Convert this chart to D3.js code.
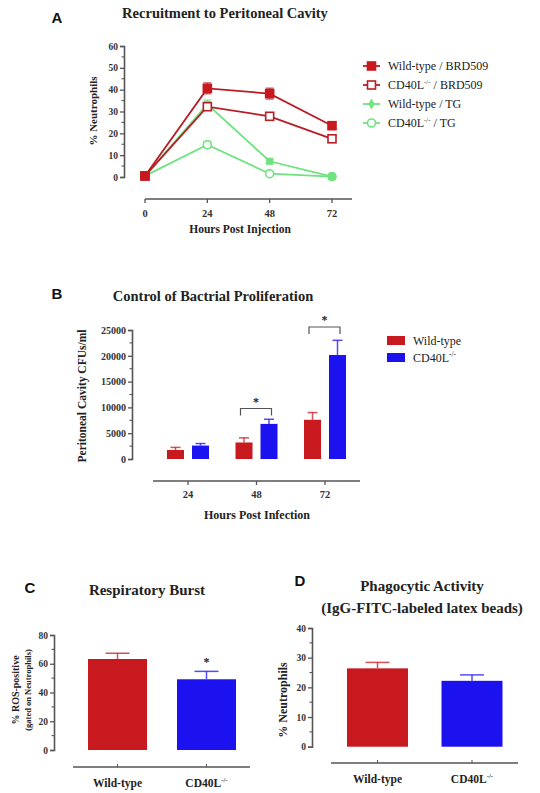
<!DOCTYPE html>
<html><head><meta charset="utf-8">
<script src="https://cdn.jsdelivr.net/npm/d3@7"></script>
<style>
body{margin:0;background:#fff;}
</style></head>
<body><svg id="c" width="540" height="793"></svg>
<script>
// ---------- DATA ----------
// Panel A
const hoursA = [0, 24, 48, 72];
const wtBRD = [0.5, 40.6, 38.2, 23.5];
const wtBRDerr = [0.5, 2.5, 2.5, 1.0];
const koBRD = [0.5, 32.2, 27.8, 17.5];
const koBRDerr = [0.5, 1.5, 1.2, 1.0];
const wtTG = [0.5, 33.3, 7.2, 0.2];
const wtTGerr = [0.3, 2.0, 1.0, 0.2];
const koTG = [0.5, 14.8, 1.5, 0.2];
const koTGerr = [0.3, 1.5, 0.5, 0.2];
const yTicksA = [0, 10, 20, 30, 40, 50, 60];
// Panel B
const hoursB = ["24", "48", "72"];
const wtCFU = [1750, 3200, 7600];
const wtCFUerr = [500, 900, 1400];
const koCFU = [2600, 6800, 20150];
const koCFUerr = [400, 900, 2850];
const yTicksB = [0, 5000, 10000, 15000, 20000, 25000];
// Panel C
const groupsCD = ["Wild-type", "CD40L"];
const rosVals = [63.3, 49.2];
const rosErr = [4.0, 5.5];
const yTicksC = [0, 20, 40, 60, 80];
// Panel D
const phagVals = [26.4, 22.2];
const phagErr = [2.0, 2.0];
const yTicksD = [0, 10, 20, 30, 40];

// ---------- STYLE ----------
const SERIF = '"Times New Roman", "Liberation Serif", Times, "DejaVu Serif", serif';
const SANS = '"Liberation Sans", Arial, Helvetica, sans-serif';
const RED = "#c8191f", RED_LINE = "#b81d24", BLUE = "#1c12f0", GREEN = "#6fe37f", AX = "#555";
const svg = d3.select("#c");

function yAxis(g, scale, x, ticks, minor, fs) {
  const ax = svg.append("g").attr("transform", `translate(${x},0)`);
  ax.call(d3.axisLeft(scale).tickValues(ticks).tickSize(4).tickPadding(2).tickFormat(d3.format("d")));
  ax.select(".domain").attr("stroke", AX).attr("stroke-width", 1.6);
  ax.selectAll(".tick line").attr("stroke", AX).attr("stroke-width", 1.3);
  ax.selectAll("text").style("font-size", fs + "px").attr("fill", "#333");
  const mg = svg.append("g").attr("transform", `translate(${x},0)`);
  mg.selectAll("line").data(minor).join("line")
    .attr("x1", -2.5).attr("x2", 0).attr("y1", d => scale(d)).attr("y2", d => scale(d))
    .attr("stroke", AX).attr("stroke-width", 1.1);
}
function xLine(y, x1, x2) {
  svg.append("line").attr("x1", x1).attr("x2", x2).attr("y1", y).attr("y2", y).attr("stroke", AX).attr("stroke-width", 1.6);
}
function superText(sel, base, sup, fs) {
  sel.text(null);
  sel.append("tspan").text(base);
  sel.append("tspan").text(sup).attr("dy", -fs * 0.4).style("font-size", (fs * 0.6) + "px");
}

// ---------- PANEL A ----------
svg.append("text").attr("class", "lbl").attr("x", 57).attr("y", 23).attr("text-anchor", "middle").text("A");
svg.append("text").attr("x", 225).attr("y", 18).attr("text-anchor", "middle").style("font-size", "14.5px").text("Recruitment to Peritoneal Cavity");
const xA = d3.scaleLinear().domain([0, 72]).range([145, 332]);
const yA = d3.scaleLinear().domain([0, 60]).range([177, 46]);
yAxis(null, yA, 124, yTicksA, d3.range(5, 60, 10), 9.5);
svg.append("text").attr("transform", "translate(97,111) rotate(-90)").attr("text-anchor", "middle").style("font-size", "11px").text("% Neutrophils");
xLine(199, 145, 352);
const gxA = svg.append("g").attr("transform", "translate(0,199)");
gxA.selectAll("line").data(hoursA).join("line").attr("x1", d => xA(d)).attr("x2", d => xA(d)).attr("y1", 0).attr("y2", 4).attr("stroke", AX).attr("stroke-width", 1.3);
gxA.selectAll("text").data(hoursA).join("text").attr("x", d => xA(d)).attr("y", 18).attr("text-anchor", "middle").style("font-size", "10.5px").attr("fill", "#333").text(d => d);
svg.append("text").attr("x", 240).attr("y", 233).attr("text-anchor", "middle").style("font-size", "11.5px").text("Hours Post Injection");

const seriesA = [
  {name: "CD40L / TG", vals: koTG, err: koTGerr, color: GREEN, shape: "circle", fill: false, lw: 1.8},
  {name: "Wild-type / TG", vals: wtTG, err: wtTGerr, color: GREEN, shape: "diamond", fill: true, lw: 1.8},
  {name: "CD40L / BRD509", vals: koBRD, err: koBRDerr, color: RED_LINE, shape: "square", fill: false, lw: 1.8},
  {name: "Wild-type / BRD509", vals: wtBRD, err: wtBRDerr, color: RED_LINE, shape: "square", fill: true, lw: 1.8},
];
function drawMarker(g, x, y, s) {
  if (s.shape === "square") {
    g.append("rect").attr("x", x - 4).attr("y", y - 4).attr("width", 8).attr("height", 8)
      .attr("fill", s.fill ? RED : "#fff").attr("stroke", s.fill ? RED : RED_LINE).attr("stroke-width", 1.6);
  } else if (s.shape === "circle") {
    g.append("circle").attr("cx", x).attr("cy", y).attr("r", 4).attr("fill", "#fff").attr("stroke", s.color).attr("stroke-width", 1.6);
  } else {
    g.append("path").attr("d", d3.symbol(d3.symbolSquare, 50)()).attr("transform", `translate(${x},${y})`).attr("fill", s.color);
  }
}
seriesA.forEach(s => {
  const g = svg.append("g");
  const pts = hoursA.map((h, i) => [xA(h), yA(s.vals[i])]);
  g.append("path").attr("d", d3.line()(pts)).attr("fill", "none").attr("stroke", s.color).attr("stroke-width", s.lw);
  hoursA.forEach((h, i) => {
    const x = xA(h);
    g.append("line").attr("x1", x).attr("x2", x).attr("y1", yA(s.vals[i] + s.err[i])).attr("y2", yA(s.vals[i] - s.err[i])).attr("stroke", s.color).attr("stroke-width", 1.2).attr("opacity", 0.8);
    [s.vals[i] + s.err[i], s.vals[i] - s.err[i]].forEach(v => g.append("line").attr("x1", x - 4).attr("x2", x + 4).attr("y1", yA(v)).attr("y2", yA(v)).attr("stroke", s.color).attr("stroke-width", 1.2).attr("opacity", 0.8));
  });
  pts.forEach(p => drawMarker(g, p[0], p[1], s));
});
// legend A
const legA = [seriesA[3], seriesA[2], seriesA[1], seriesA[0]];
const legYA = [66, 85, 104, 123];
legA.forEach((s, i) => {
  const g = svg.append("g");
  const y = legYA[i];
  g.append("line").attr("x1", 363).attr("x2", 380).attr("y1", y).attr("y2", y).attr("stroke", s.color).attr("stroke-width", 1.8);
  const ls = Object.assign({}, s, {shape: s.shape === "diamond" ? "diamondL" : s.shape});
  if (ls.shape === "diamondL") g.append("path").attr("d", d3.symbol(d3.symbolDiamond, 35)()).attr("transform", `translate(371.5,${y})`).attr("fill", s.color);
  else drawMarker(g, 371.5, y, s);
  const t = g.append("text").attr("x", 388).attr("y", y + 4).style("font-size", "12px").style("font-weight", "normal").attr("fill", "#222");
  if (s.name.startsWith("CD40L")) {
    t.append("tspan").text("CD40L");
    t.append("tspan").text("-/-").attr("dy", -5).style("font-size", "7px");
    t.append("tspan").text(s.name.replace("CD40L", "")).attr("dy", 5);
  } else t.text(s.name);
});

// ---------- PANEL B ----------
svg.append("text").attr("class", "lbl").attr("x", 57).attr("y", 299).attr("text-anchor", "middle").text("B");
svg.append("text").attr("x", 213).attr("y", 301).attr("text-anchor", "middle").style("font-size", "14.5px").text("Control of Bactrial Proliferation");
const yB = d3.scaleLinear().domain([0, 25000]).range([459, 330]);
const xBc = d3.scalePoint().domain(hoursB).range([188, 325]);
yAxis(null, yB, 132, yTicksB, d3.range(2500, 25000, 5000), 10);
svg.append("text").attr("transform", "translate(86,396) rotate(-90)").attr("text-anchor", "middle").style("font-size", "11.5px").text("Peritoneal Cavity CFUs/ml");
xLine(481, 153, 360);
const gxB = svg.append("g").attr("transform", "translate(0,481)");
gxB.selectAll("line").data(hoursB).join("line").attr("x1", d => xBc(d)).attr("x2", d => xBc(d)).attr("y1", 0).attr("y2", 4).attr("stroke", AX).attr("stroke-width", 1.3);
gxB.selectAll("text").data(hoursB).join("text").attr("x", d => xBc(d)).attr("y", 17).attr("text-anchor", "middle").style("font-size", "10.5px").attr("fill", "#333").text(d => d);
svg.append("text").attr("x", 257).attr("y", 519).attr("text-anchor", "middle").style("font-size", "12px").text("Hours Post Infection");
const barW = 17;
[[wtCFU, wtCFUerr, RED, -12.5], [koCFU, koCFUerr, BLUE, 12.5]].forEach(([vals, errs, col, off]) => {
  hoursB.forEach((h, i) => {
    const cx = xBc(h) + off;
    svg.append("line").attr("x1", cx).attr("x2", cx).attr("y1", yB(vals[i] + errs[i])).attr("y2", yB(vals[i])).attr("stroke", col).attr("stroke-width", 1.5).attr("opacity", 0.75);
    svg.append("line").attr("x1", cx - 5).attr("x2", cx + 5).attr("y1", yB(vals[i] + errs[i])).attr("y2", yB(vals[i] + errs[i])).attr("stroke", col).attr("stroke-width", 1.5).attr("opacity", 0.75);
    svg.append("rect").attr("x", cx - barW / 2).attr("y", yB(vals[i])).attr("width", barW).attr("height", yB(0) - yB(vals[i])).attr("fill", col);
  });
});
// significance brackets
[["48", 408.5], ["72", 327]].forEach(([h, y]) => {
  const x1 = xBc(h) - 16, x2 = xBc(h) + 15;
  svg.append("path").attr("d", `M${x1},${y + 7}V${y}H${x2}V${y + 7}`).attr("fill", "none").attr("stroke", "#555").attr("stroke-width", 1.2);
  svg.append("text").attr("x", (x1 + x2) / 2).attr("y", y - 3).attr("text-anchor", "middle").style("font-size", "12px").text("*");
});
// legend B
const legB = [["Wild-type", RED], ["CD40L", BLUE]];
legB.forEach(([n, c], i) => {
  const y = 336 + i * 17;
  svg.append("rect").attr("x", 387).attr("y", y).attr("width", 18).attr("height", 9).attr("fill", c);
  const t = svg.append("text").attr("x", 413).attr("y", y + 8.5).style("font-size", "12px").style("font-weight", "normal");
  if (n === "CD40L") superText(t, "CD40L", "-/-", 12); else t.text(n);
});

// ---------- PANEL C & D ----------
function barPanel(opts) {
  const y = d3.scaleLinear().domain(opts.domain).range(opts.yRange);
  const x = d3.scalePoint().domain(groupsCD).range(opts.centers);
  yAxis(null, y, opts.axisX, opts.ticks, opts.minor, 9.5);
  xLine(opts.baseY, opts.lineX[0], opts.lineX[1]);
  groupsCD.forEach((gname, i) => {
    const cx = x(gname), col = i === 0 ? RED : BLUE;
    svg.append("line").attr("x1", cx).attr("x2", cx).attr("y1", opts.baseY).attr("y2", opts.baseY - 3).attr("stroke", AX).attr("stroke-width", 1);
    const v = opts.vals[i], e = opts.errs[i];
    svg.append("line").attr("x1", cx).attr("x2", cx).attr("y1", y(v + e)).attr("y2", y(v)).attr("stroke", col).attr("stroke-width", 1.5).attr("opacity", 0.75);
    svg.append("line").attr("x1", cx - 12).attr("x2", cx + 12).attr("y1", y(v + e)).attr("y2", y(v + e)).attr("stroke", col).attr("stroke-width", 1.5).attr("opacity", 0.75);
    svg.append("rect").attr("x", cx - opts.bw / 2).attr("y", y(v)).attr("width", opts.bw).attr("height", y(0) - y(v)).attr("fill", col);
    const t = svg.append("text").attr("x", cx).attr("y", opts.baseY + 20).attr("text-anchor", "middle").style("font-size", "11.5px");
    if (gname === "CD40L") superText(t, "CD40L", "-/-", 11.5); else t.text(gname);
  });
  return {x, y};
}
// C
svg.append("text").attr("class", "lbl").attr("x", 30).attr("y", 593).attr("text-anchor", "middle").text("C");
svg.append("text").attr("x", 147).attr("y", 595).attr("text-anchor", "middle").style("font-size", "15px").text("Respiratory Burst");
const pc = barPanel({domain: [0, 80], yRange: [750, 635], axisX: 54, ticks: yTicksC, minor: d3.range(10, 80, 20), baseY: 767, lineX: [73, 250], centers: [117.5, 206.5], bw: 59, vals: rosVals, errs: rosErr});
svg.append("text").attr("transform", "translate(19,690) rotate(-90)").attr("text-anchor", "middle").style("font-size", "10px").text("% ROS-positive");
svg.append("text").attr("transform", "translate(31,690) rotate(-90)").attr("text-anchor", "middle").style("font-size", "8.5px").text("(gated on Neutrophils)");
svg.append("text").attr("x", pc.x("CD40L")).attr("y", pc.y(rosVals[1] + rosErr[1]) - 5).attr("text-anchor", "middle").style("font-size", "12px").text("*");
// D
svg.append("text").attr("class", "lbl").attr("x", 300).attr("y", 586).attr("text-anchor", "middle").text("D");
svg.append("text").attr("x", 422).attr("y", 591).attr("text-anchor", "middle").style("font-size", "15px").text("Phagocytic Activity");
svg.append("text").attr("x", 422).attr("y", 613).attr("text-anchor", "middle").style("font-size", "15px").text("(IgG-FITC-labeled latex beads)");
barPanel({domain: [0, 40], yRange: [746.7, 628], axisX: 312, ticks: yTicksD, minor: d3.range(5, 40, 10), baseY: 763, lineX: [331, 518], centers: [377.5, 472], bw: 61, vals: phagVals, errs: phagErr});
svg.append("text").attr("transform", "translate(287,700) rotate(-90)").attr("text-anchor", "middle").style("font-size", "12px").text("% Neutrophils");

// fonts
svg.selectAll("text").style("font-family", SERIF).each(function () {
  const s = d3.select(this);
  if (!s.style("font-weight") || s.node().style.fontWeight === "") s.style("font-weight", "bold");
});
svg.selectAll("g").attr("font-family", null);
svg.selectAll("text").filter(function () { return this.style.fontWeight === "" ; }).style("font-weight", "bold");
svg.selectAll("text:not(.lbl)").filter(function () { return !this.getAttribute("fill"); }).attr("fill", "#222");
svg.selectAll("text.lbl").style("font-family", SANS).style("font-size", "15px").style("font-weight", "bold").attr("fill", "#111");
</script></body></html>
